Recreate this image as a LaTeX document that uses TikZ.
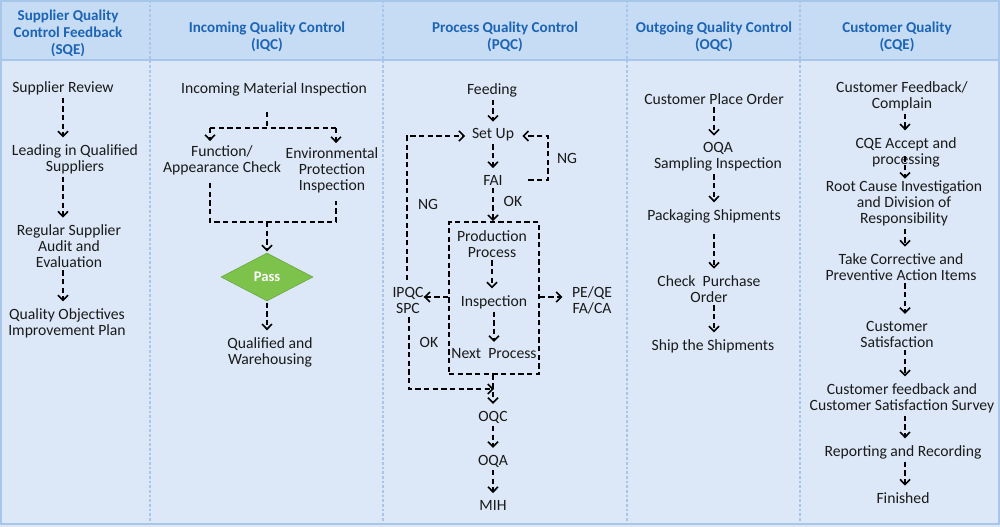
\documentclass[tikz,border=0pt]{standalone}
\usepackage{fontspec}
\setmainfont{Carlito}
\usetikzlibrary{arrows.meta,shapes.geometric,calc}
\definecolor{hdr}{HTML}{C6DBF4}
\definecolor{bodyc}{HTML}{DCE8F7}
\definecolor{edgec}{HTML}{A7C6EA}
\definecolor{htxt}{HTML}{1C64B4}
\definecolor{txt}{HTML}{1A1A1A}
\definecolor{passc}{HTML}{7DC24B}
\begin{document}
\begin{tikzpicture}[x=0.75pt,y=-0.75pt,
  lbl/.style={font=\fontsize{11.75}{12}\selectfont, text=txt, align=center, inner sep=0pt},
  hd/.style={font=\bfseries\fontsize{11.3}{12.75}\selectfont, text=htxt, align=center, inner sep=0pt},
  ln/.style={draw=black, line width=1.2pt, dash pattern=on 4pt off 2.5pt},
  arr/.style={ln, -{Straight Barb[length=3.8pt,width=7.5pt,line width=1.2pt]}, shorten <=2pt, shorten >=5pt},
  sep/.style={draw=edgec, line width=0.8pt, dash pattern=on 2pt off 1.5pt}]
\useasboundingbox (0,0) rectangle (1000,527);
% background
\fill[bodyc] (0,0) rectangle (1000,527);
\fill[hdr] (0,0) rectangle (1000,60);
\draw[edgec, line width=0.8pt] (0,60) -- (1000,60);
\foreach \x in {150,383,627,800} \draw[sep] (\x,0) -- (\x,524);
\draw[edgec, line width=1.5pt] (1,1) rectangle (999,524);

% headers
\node[hd] (h1) at (68,33) {Supplier Quality\\Control Feedback\\(SQE)};
\node[hd] (h2) at (267,37) {Incoming Quality Control\\(IQC)};
\node[hd] (h3) at (505,37) {Process Quality Control\\(PQC)};
\node[hd] (h4) at (714,37) {Outgoing Quality Control\\(OQC)};
\node[hd] (h5) at (897,37) {Customer Quality\\(CQE)};

% SQE column
\coordinate (sx) at (63,0);
\node[lbl] (s1) at (63,88) {Supplier Review};
\node[lbl] (s2) at (75,159) {Leading in Qualified\\Suppliers};
\node[lbl] (s3) at (69,246) {Regular Supplier\\Audit and\\Evaluation};
\node[lbl] (s4) at (67,323) {Quality Objectives\\Improvement Plan};
\draw[arr] (sx |- s1.south) -- (sx |- s2.north);
\draw[arr] (sx |- s2.south) -- (sx |- s3.north);
\draw[arr] (sx |- s3.south) -- (sx |- s4.north);

% IQC column
\node[lbl] (i1) at (274,89) {Incoming Material Inspection};
\node[lbl] (i2) at (222,160) {Function/\\Appearance Check};
\node[lbl] (i3) at (332,170) {Environmental\\Protection\\Inspection};
\node[diamond, aspect=1.9, fill=passc, draw=passc!85!black, line width=0.4pt,
      minimum width=69pt, minimum height=36pt, inner sep=0pt,
      text=white, font=\bfseries\fontsize{11}{12}\selectfont] (pass) at (267,277) {Pass};
\node[lbl] (i4) at (270,352) {Qualified and\\Warehousing};
\coordinate (isp) at (267,128);
\coordinate (il) at (210,128);
\coordinate (ir) at (336,128);
\coordinate (jl) at (210,222);
\coordinate (jr) at (336,222);
\coordinate (jm) at (267,222);
\draw[ln] ([yshift=-12pt]isp |- i1.south) -- (isp);
\draw[ln] (il) -- (ir);
\draw[arr, shorten <=0pt, shorten >=3pt] (il) -- (il |- i2.north);
\draw[arr, shorten <=0pt, shorten >=3pt] (ir) -- (ir |- i3.north);
\draw[ln] ([yshift=-6pt]jl |- i2.south) -- (jl) -- (jr) -- ([yshift=-6pt]jr |- i3.south);
\draw[arr, shorten <=0pt, shorten >=1pt] (jm) -- (pass.north);
\draw[arr, shorten <=1pt] (pass.south) -- (pass.south |- i4.north);

% PQC column
\node[lbl] (p1) at (492,90) {Feeding};
\node[lbl] (p2) at (493,135) {Set Up};
\node[lbl] (p3) at (493,180) {FAI};
\node[draw=black, line width=1.2pt, dash pattern=on 4pt off 2.5pt,
      minimum width=67.5pt, minimum height=114pt, inner sep=0pt] (pbox) at (494,298) {};
\node[lbl] (p4) at (492,244) {Production\\Process};
\node[lbl] (p5) at (494,302) {Inspection};
\node[lbl] (p6) at (494,354) {Next~~Process};
\node[lbl] (p7) at (408,300) {IPQC\\SPC};
\node[lbl] (p8) at (592,300) {PE/QE\\FA/CA};
\node[lbl] (p9) at (493,417) {OQC};
\node[lbl] (p10) at (493,461) {OQA};
\node[lbl] (p11) at (493,505) {MIH};
\node[lbl] (ng1) at (428,204) {NG};
\node[lbl] (ng2) at (567,158) {NG};
\node[lbl] (ok1) at (513,201) {OK};
\node[lbl] (ok2) at (429,342) {OK};
\coordinate (px) at (493,0);
\coordinate (lp) at (407,136);
\coordinate (rtop) at (548,136);
\coordinate (okc) at (409,389);
\coordinate (ay) at (0,297);
\draw[arr] (px |- p1.south) -- (px |- p2.north);
\draw[arr, shorten <=5pt] (lp |- p7.north) -- (lp) -- (p2.west |- lp);
\draw[arr, shorten <=19pt, shorten >=6pt] (p3.east) -| (rtop) -- (p2.east |- rtop);
\draw[arr] (px |- p2.south) -- (px |- p3.north);
\draw[arr, shorten >=0pt] (px |- p3.south) -- (px |- pbox.north);
\draw[arr] (p4.south) -- (p4.south |- p5.north);
\draw[arr] (p5.south) -- (p6.north);
\draw[arr, shorten <=0pt, shorten >=0pt] (pbox.west |- ay) -- (p7.east |- ay);
\draw[arr, shorten <=0pt, shorten >=7pt] (pbox.east |- ay) -- (p8.west |- ay);
\draw[arr, shorten <=3pt, shorten >=0pt] (okc |- p7.south) -- (okc) -- (pbox.south |- okc);
\draw[arr, shorten <=0pt] (px |- pbox.south) -- (px |- p9.north);
\draw[arr] (p9.south) -- (p10.north);
\draw[arr] (p10.south) -- (p11.north);

% OQC column
\coordinate (ox) at (714,0);
\node[lbl] (o1) at (714,99) {Customer Place Order};
\node[lbl] (o2) at (718,157) {OQA\\Sampling Inspection};
\node[lbl] (o3) at (714,216) {Packaging Shipments};
\node[lbl] (o4) at (709,289) {Check~~Purchase\\Order};
\node[lbl] (o5) at (713,346) {Ship the Shipments};
\draw[arr] (ox |- o1.south) -- (ox |- o2.north);
\draw[arr] (ox |- o2.south) -- (ox |- o3.north);
\draw[arr, shorten <=8pt] (ox |- o3.south) -- (ox |- o4.north);
\draw[arr] (ox |- o4.south) -- (ox |- o5.north);

% CQE column
\coordinate (cx) at (905,0);
\node[lbl] (c1) at (902,96) {Customer Feedback/\\Complain};
\node[lbl] (c2) at (906,152) {CQE Accept and\\processing};
\node[lbl] (c3) at (904,203) {Root Cause Investigation\\and Division of\\Responsibility};
\node[lbl] (c4) at (901,267) {Take Corrective and\\Preventive Action Items};
\node[lbl] (c5) at (897,334) {Customer\\Satisfaction};
\node[lbl] (c6) at (902,398) {Customer feedback and\\Customer Satisfaction Survey};
\node[lbl] (c7) at (903,452) {Reporting and Recording};
\node[lbl] (c8) at (903,498) {Finished};
\draw[arr] (cx |- c1.south) -- (cx |- c2.north);
\draw[arr, shorten <=-8pt, shorten >=1pt] (cx |- c2.south) -- (cx |- c3.north);
\draw[arr] (cx |- c3.south) -- (cx |- c4.north);
\draw[arr] (cx |- c4.south) -- (cx |- c5.north);
\draw[arr] (cx |- c5.south) -- (cx |- c6.north);
\draw[arr] (cx |- c6.south) -- (cx |- c7.north);
\draw[arr] (cx |- c7.south) -- (cx |- c8.north);
\end{tikzpicture}
\end{document}
